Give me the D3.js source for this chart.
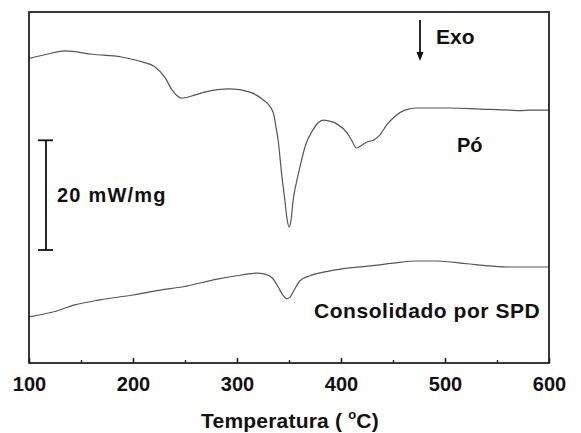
<!DOCTYPE html>
<html>
<head>
<meta charset="utf-8">
<script src="https://cdn.jsdelivr.net/npm/d3@7"></script>
<style>
  html, body { margin: 0; padding: 0; background: #fff; }
  svg { display: block; }
  text { font-family: "Liberation Sans", Arial, Helvetica, sans-serif; font-weight: bold; fill: #111; }
</style>
</head>
<body>
<script>
// Temperature (°C) and DSC signal (mW/mg, arbitrary offset)
const poTemp = [100,115,135,161,189,209,221,231,237.5,247,260,269,293,312.5,325,332,335.5,337.5,339.5,343,346,348,350,352,354,357,360.5,366,373,378,383,389,396,406,410.5,415,420,425,432,437.5,444,452,461.5,473,505,533.5,562.5,572,582,600];
const poSignal = [55.5,56.2,56.9,56.3,55.8,54.9,54.0,52.0,49.8,48.3,48.9,49.4,50.0,49.4,48.0,46.7,45.2,43.0,40.7,34.3,29.7,26.4,24.8,26.1,29.7,32.8,35.7,39.8,42.5,43.8,44.3,44.1,43.6,41.9,40.5,39.2,39.7,40.3,40.7,41.6,43.4,45.0,46.1,46.5,46.5,46.3,46.1,46.0,46.1,46.1];

const spdTemp = [100,123,144,168,200,226,248,281,303,319,327,334,339.5,344,348,351,355,360.5,370,384.5,406,428,450,473,492,521,543,562.5,582,600];
const spdSignal = [8.4,9.3,10.6,11.5,12.4,13.3,13.9,15.3,16.0,16.4,16.2,15.5,13.9,12.4,11.7,12.0,13.3,15.0,15.9,16.6,17.3,17.7,18.2,18.6,18.6,18.1,17.7,17.5,17.5,17.5];

const xTicks = [100,200,300,400,500,600];
const xMinorTicks = [150,250,350,450,550];
const scaleBarValue = 20; // mW/mg
const xDomain = [100, 600];
const yDomain = [0, 64];

const W = 581, H = 433;
const margin = {left: 29, right: 32, top: 12, bottom: 70};

const svg = d3.select("body").append("svg").attr("width", W).attr("height", H);
svg.append("rect").attr("width", W).attr("height", H).attr("fill", "#fff");

const x = d3.scaleLinear().domain(xDomain).range([margin.left, W - margin.right]);
const y = d3.scaleLinear().domain(yDomain).range([H - margin.bottom, margin.top]);

const line = d3.line().x(d => x(d[0])).y(d => y(d[1])).curve(d3.curveMonotoneX);

const poData = poTemp.map((t, i) => [t, poSignal[i]]);
const spdData = spdTemp.map((t, i) => [t, spdSignal[i]]);

svg.append("path").datum(poData).attr("d", line)
  .attr("fill", "none").attr("stroke", "#555").attr("stroke-width", 1.2);
svg.append("path").datum(spdData).attr("d", line)
  .attr("fill", "none").attr("stroke", "#555").attr("stroke-width", 1.2);

// Frame
svg.append("rect")
  .attr("x", x(xDomain[0])).attr("y", y(yDomain[1]))
  .attr("width", x(xDomain[1]) - x(xDomain[0]))
  .attr("height", y(yDomain[0]) - y(yDomain[1]))
  .attr("fill", "none").attr("stroke", "#222").attr("stroke-width", 1.8);

// X axis (ticks pointing inward)
const xAxis = svg.append("g").attr("transform", `translate(0,${y(yDomain[0])})`)
  .call(d3.axisBottom(x).tickValues(xTicks).tickSize(-5).tickPadding(14).tickFormat(d3.format("d")));
xAxis.select(".domain").remove();
xAxis.selectAll(".tick line").attr("stroke", "#222").attr("stroke-width", 1.6);
xAxis.selectAll(".tick text").attr("font-size", 20)
  .style("font-family", "'Liberation Sans', Arial, sans-serif").style("font-weight", "bold").attr("fill", "#111");

const xMinor = svg.append("g").attr("transform", `translate(0,${y(yDomain[0])})`)
  .call(d3.axisBottom(x).tickValues(xMinorTicks).tickSize(-3).tickFormat(""));
xMinor.select(".domain").remove();
xMinor.selectAll(".tick line").attr("stroke", "#222").attr("stroke-width", 1.4);

// Axis title
const title = svg.append("text").attr("x", 290).attr("y", 428).attr("text-anchor", "middle").attr("font-size", 21).attr("letter-spacing", 0.2);
title.append("tspan").text("Temperatura ( ");
title.append("tspan").attr("font-size", 13).attr("dy", -9).text("o");
title.append("tspan").attr("dy", 9).text("C)");

// Scale bar (20 mW/mg)
const sbX = 46, sbBottom = 250;
const sbTop = sbBottom - (y(0) - y(scaleBarValue));
svg.append("line").attr("x1", sbX).attr("x2", sbX).attr("y1", sbTop).attr("y2", sbBottom)
  .attr("stroke", "#111").attr("stroke-width", 1.8);
[sbTop, sbBottom].forEach(v => svg.append("line").attr("x1", sbX - 8).attr("x2", sbX + 7)
  .attr("y1", v).attr("y2", v).attr("stroke", "#111").attr("stroke-width", 1.8));
svg.append("text").attr("x", 57).attr("y", 202).attr("font-size", 20).attr("letter-spacing", 1.2).text(`${scaleBarValue} mW/mg`);

// Exo arrow
svg.append("line").attr("x1", 420).attr("x2", 420).attr("y1", 20).attr("y2", 55)
  .attr("stroke", "#111").attr("stroke-width", 1.8);
svg.append("path").attr("d", "M416.5,52 L420,61 L423.5,52 Z").attr("fill", "#111");
svg.append("text").attr("x", 436).attr("y", 44).attr("font-size", 21).text("Exo");

// Labels
svg.append("text").attr("x", 457).attr("y", 152).attr("font-size", 20).text("Pó");
svg.append("text").attr("x", 314).attr("y", 318).attr("font-size", 21).attr("letter-spacing", 0.55).text("Consolidado por SPD");
</script>
</body>
</html>
